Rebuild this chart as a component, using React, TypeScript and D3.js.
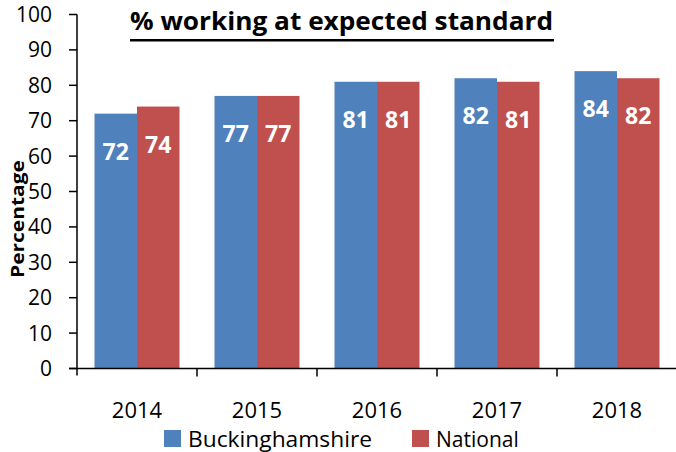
import React from "react";
import * as d3 from "d3";

const years = ["2014", "2015", "2016", "2017", "2018"];
const seriesNames = ["Buckinghamshire", "National"];
const bucks = [72, 77, 81, 82, 84];
const national = [74, 77, 81, 81, 82];
const yTicks = [0, 10, 20, 30, 40, 50, 60, 70, 80, 90, 100];
const colors = ["#4F81BD", "#C0504D"];

const W = 676;
const H = 452;
const FONT = "'Open Sans', 'Noto Sans', sans-serif";

export default function App() {
  const x0 = 77;
  const x1 = 677;
  const yTop = 14.5;
  const yBot = 368.5;
  const x = d3.scaleBand().domain(years).range([x0, x1]).paddingInner(0).paddingOuter(0);
  const y = d3.scaleLinear().domain([0, 100]).range([yBot, yTop]);
  const inner = d3.scaleBand().domain(seriesNames).range([0, x.bandwidth()]).paddingInner(0).paddingOuter(0.412);
  const data = [bucks, national];

  return (
    <svg width={W} height={H} style={{ position: "absolute", left: 0, top: 0, background: "#fff" }}>
      <text x={130} y={30} textLength={423} lengthAdjust="spacingAndGlyphs" fontFamily={FONT} fontWeight="bold" fontSize={25} fill="#000">
        % working at expected standard
      </text>
      <rect x={130} y={39} width={424} height={2.5} fill="#000" />
      {/* Bars */}
      {years.map((yr, i) => (
        <g key={yr}>
          {seriesNames.map((s, j) => {
            const v = data[j][i];
            const bx = (x(yr) as number) + (inner(s) as number);
            const bw = inner.bandwidth();
            return (
              <g key={s}>
                <rect x={bx} y={y(v)} width={bw} height={yBot - y(v)} fill={colors[j]} />
                <text x={bx + bw / 2} y={y(v) + 46} textAnchor="middle" fontFamily={FONT} fontWeight="bold" fontSize={23} fill="#fff">
                  {v}
                </text>
              </g>
            );
          })}
        </g>
      ))}
      {/* Y axis */}
      <line x1={x0} x2={x0} y1={yTop} y2={yBot + 7} stroke="#000" strokeWidth={1.5} />
      {yTicks.map((t) => (
        <g key={t}>
          <line x1={x0 - 8} x2={x0} y1={y(t)} y2={y(t)} stroke="#000" strokeWidth={1.5} />
          <text x={52} y={y(t) + 7.5} textAnchor="end" fontFamily={FONT} fontSize={21} fill="#000">
            {t}
          </text>
        </g>
      ))}
      {/* X axis */}
      <line x1={x0 - 8} x2={x1} y1={yBot} y2={yBot} stroke="#000" strokeWidth={1.5} />
      {years.map((yr) => (
        <g key={yr}>
          <line x1={(x(yr) as number) + x.bandwidth()} x2={(x(yr) as number) + x.bandwidth()} y1={yBot} y2={yBot + 8} stroke="#000" strokeWidth={1.5} />
          <text x={(x(yr) as number) + x.bandwidth() / 2} y={418} textAnchor="middle" fontFamily={FONT} fontSize={22} fill="#000">
            {yr}
          </text>
        </g>
      ))}
      {/* Y label */}
      <text transform="translate(24,219) rotate(-90)" textAnchor="middle" textLength={118} lengthAdjust="spacingAndGlyphs" fontFamily={FONT} fontWeight="bold" fontSize={18} fill="#000">
        Percentage
      </text>
      {/* Legend */}
      <rect x={164} y={430} width={17} height={17} fill={colors[0]} />
      <text x={188} y={446.5} textLength={184} lengthAdjust="spacingAndGlyphs" fontFamily={FONT} fontSize={21} fill="#000">{seriesNames[0]}</text>
      <rect x={412} y={430} width={17} height={17} fill={colors[1]} />
      <text x={436} y={446.5} fontFamily={FONT} fontSize={21} fill="#000">{seriesNames[1]}</text>
    </svg>
  );
}
